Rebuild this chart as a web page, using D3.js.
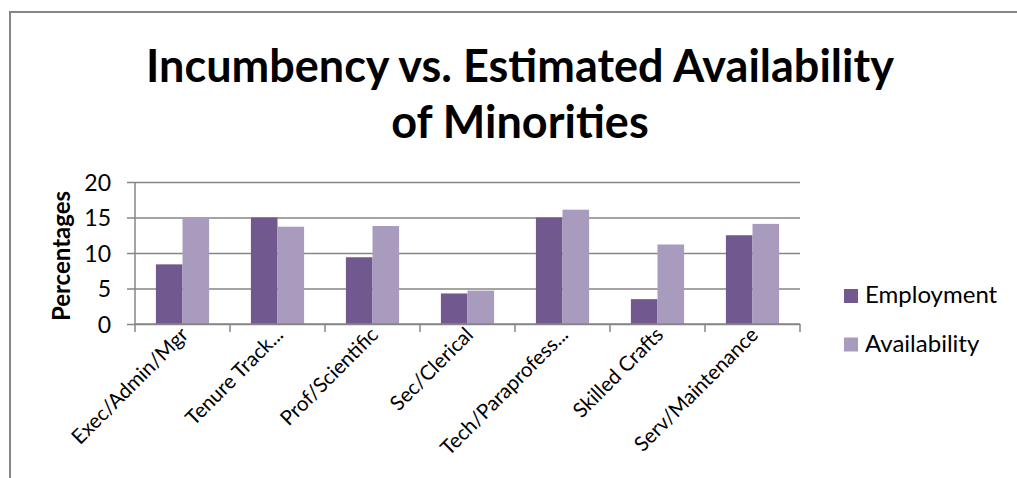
<!DOCTYPE html>
<html>
<head>
<meta charset="utf-8">
<script src="https://cdn.jsdelivr.net/npm/d3@7"></script>
<style>
  html, body { margin: 0; padding: 0; background: #fff; }
  svg { display: block; font-family: Lato, "Open Sans", sans-serif; }
</style>
</head>
<body>
<svg id="chart" width="1017" height="478"></svg>
<script>
'use strict';

const categories = ['Exec/Admin/Mgr', 'Tenure Track...', 'Prof/Scientific', 'Sec/Clerical',
  'Tech/Paraprofess...', 'Skilled Crafts', 'Serv/Maintenance'];
const seriesNames = ['Employment', 'Availability'];
const employment = [8.4, 15.0, 9.4, 4.3, 15.0, 3.5, 12.5];
const availability = [15.0, 13.7, 13.8, 4.7, 16.1, 11.2, 14.1];
const yTicks = [0, 5, 10, 15, 20];
const titleLines = ['Incumbency vs. Estimated Availability', 'of Minorities'];

const colors = { Employment: '#71588f', Availability: '#a99bbd' };
const gridColor = '#868686';

const plot = { left: 135, right: 800, top: 182, bottom: 324 };

const svg = d3.select('#chart');

// chart border (only left and top edges are visible)
svg.append('path')
  .attr('d', 'M10,478 V12 H1017')
  .attr('fill', 'none')
  .attr('stroke', gridColor)
  .attr('stroke-width', 2);

// title
svg.append('g')
  .selectAll('text')
  .data(titleLines)
  .enter()
  .append('text')
  .attr('x', 520)
  .attr('y', (d, i) => 82 + i * 56)
  .attr('text-anchor', 'middle')
  .style('font-size', '45px')
  .style('font-weight', 'bold')
  .text(d => d);

const x0 = d3.scaleBand()
  .domain(categories)
  .range([plot.left, plot.right])
  .paddingInner(0.44)
  .paddingOuter(0.22);

const x1 = d3.scaleBand()
  .domain(seriesNames)
  .range([0, x0.bandwidth()]);

const y = d3.scaleLinear()
  .domain([0, 20])
  .range([plot.bottom, plot.top]);

// gridlines (extend 8px left of the plot as outside ticks)
svg.append('g')
  .attr('transform', 'translate(' + plot.right + ',0)')
  .call(d3.axisLeft(y).tickValues(yTicks).tickSize(plot.right - plot.left + 8))
  .call(g => g.select('.domain').remove())
  .call(g => g.selectAll('line').attr('stroke', gridColor).attr('stroke-width', 1.5))
  .call(g => g.selectAll('text').remove());

// y tick labels
svg.append('g')
  .attr('transform', 'translate(' + (plot.left - 8) + ',0)')
  .call(d3.axisLeft(y).tickValues(yTicks).tickSize(0).tickPadding(16))
  .call(g => g.select('.domain').remove())
  .call(g => g.selectAll('text')
    .attr('fill', '#000')
    .attr('dy', '0.36em')
    .style('font-size', '23px')
    .style('font-family', 'Lato, sans-serif'));

// vertical axis line
svg.append('line')
  .attr('x1', plot.left).attr('x2', plot.left)
  .attr('y1', y(20)).attr('y2', y(0))
  .attr('stroke', gridColor)
  .attr('stroke-width', 1.5);

// y axis title
svg.append('text')
  .attr('transform', 'translate(70,' + ((plot.top + plot.bottom) / 2 + 3) + ') rotate(-90)')
  .attr('text-anchor', 'middle')
  .style('font-size', '24px')
  .style('font-weight', 'bold')
  .text('Percentages');

// bars
const rows = categories.map((c, i) => ({ cat: c, Employment: employment[i], Availability: availability[i] }));

svg.append('g')
  .selectAll('g')
  .data(rows)
  .enter()
  .append('g')
  .attr('transform', d => 'translate(' + x0(d.cat) + ',0)')
  .selectAll('rect')
  .data(d => seriesNames.map(s => ({ key: s, value: d[s] })))
  .enter()
  .append('rect')
  .attr('x', d => x1(d.key))
  .attr('width', x1.bandwidth())
  .attr('y', d => y(d.value))
  .attr('height', d => y(0) - y(d.value))
  .attr('fill', d => colors[d.key]);

// x axis: boundary ticks + rotated labels
const step = x0.step();
const boundaries = d3.range(categories.length + 1).map(i => plot.left + i * step);

svg.append('line')
  .attr('x1', plot.left).attr('x2', plot.right)
  .attr('y1', y(0)).attr('y2', y(0))
  .attr('stroke', gridColor)
  .attr('stroke-width', 1.5);

svg.append('g')
  .selectAll('line')
  .data(boundaries)
  .enter()
  .append('line')
  .attr('x1', d => d).attr('x2', d => d)
  .attr('y1', y(0)).attr('y2', y(0) + 8)
  .attr('stroke', gridColor)
  .attr('stroke-width', 1.5);

svg.append('g')
  .selectAll('text')
  .data(categories)
  .enter()
  .append('text')
  .attr('transform', d => 'translate(' + (x0(d) + x0.bandwidth() / 2 + 7) + ',' + (y(0) + 12) + ') rotate(-45)')
  .attr('text-anchor', 'end')
  .style('font-size', '20.5px')
  .text(d => d);

// legend
const legend = svg.append('g')
  .attr('transform', 'translate(844,0)');

legend.selectAll('rect')
  .data(seriesNames)
  .enter()
  .append('rect')
  .attr('x', 0)
  .attr('y', (d, i) => 289 + i * 48.5)
  .attr('width', 14)
  .attr('height', 14)
  .attr('fill', d => colors[d]);

legend.selectAll('text')
  .data(seriesNames)
  .enter()
  .append('text')
  .attr('x', 21)
  .attr('y', (d, i) => 303 + i * 48.5)
  .style('font-size', '24px')
  .text(d => d);
</script>
</body>
</html>
